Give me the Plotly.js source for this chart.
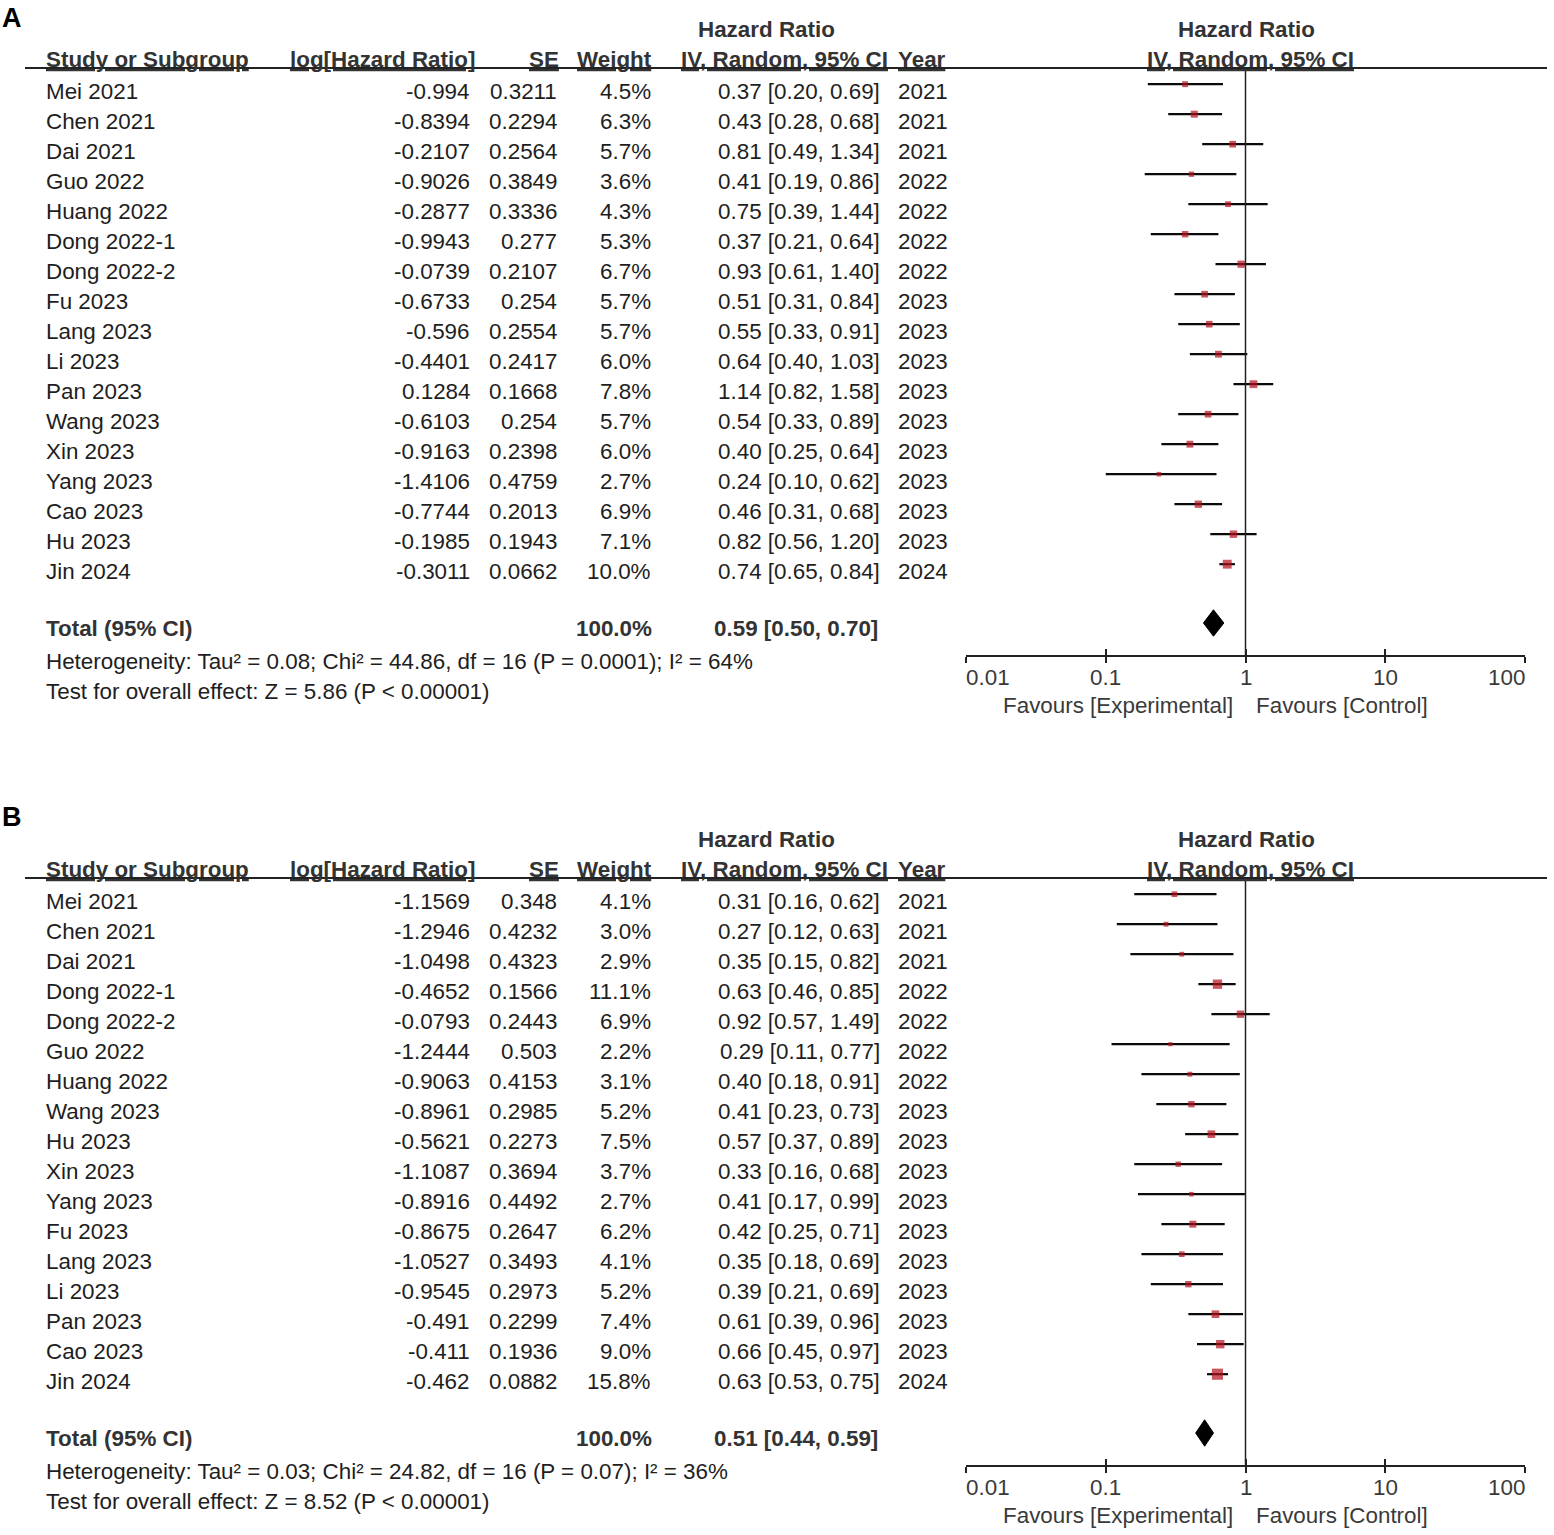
<!DOCTYPE html>
<html><head><meta charset="utf-8">
<script src="https://cdn.plot.ly/plotly-3.0.1.min.js"></script>
<style>html,body{margin:0;padding:0;background:#fff}#chart{width:1554px;height:1535px}</style>
</head><body><div id="chart"></div>
<script>
// ---------- Panel A data ----------
const studiesA = ["Mei 2021","Chen 2021","Dai 2021","Guo 2022","Huang 2022","Dong 2022-1","Dong 2022-2","Fu 2023","Lang 2023","Li 2023","Pan 2023","Wang 2023","Xin 2023","Yang 2023","Cao 2023","Hu 2023","Jin 2024"];
const logHRA = [-0.994,-0.8394,-0.2107,-0.9026,-0.2877,-0.9943,-0.0739,-0.6733,-0.596,-0.4401,0.1284,-0.6103,-0.9163,-1.4106,-0.7744,-0.1985,-0.3011];
const seA = [0.3211,0.2294,0.2564,0.3849,0.3336,0.277,0.2107,0.254,0.2554,0.2417,0.1668,0.254,0.2398,0.4759,0.2013,0.1943,0.0662];
const weightA = [4.5,6.3,5.7,3.6,4.3,5.3,6.7,5.7,5.7,6.0,7.8,5.7,6.0,2.7,6.9,7.1,10.0];
const hrA = [0.37,0.43,0.81,0.41,0.75,0.37,0.93,0.51,0.55,0.64,1.14,0.54,0.40,0.24,0.46,0.82,0.74];
const loA = [0.20,0.28,0.49,0.19,0.39,0.21,0.61,0.31,0.33,0.40,0.82,0.33,0.25,0.10,0.31,0.56,0.65];
const hiA = [0.69,0.68,1.34,0.86,1.44,0.64,1.40,0.84,0.91,1.03,1.58,0.89,0.64,0.62,0.68,1.20,0.84];
const yearA = [2021,2021,2021,2022,2022,2022,2022,2023,2023,2023,2023,2023,2023,2023,2023,2023,2024];
const totalA = [0.59,0.50,0.70];
const hetA = "Heterogeneity: Tau² = 0.08; Chi² = 44.86, df = 16 (P = 0.0001); I² = 64%";
const testA = "Test for overall effect: Z = 5.86 (P &lt; 0.00001)";

// ---------- Panel B data ----------
const studiesB = ["Mei 2021","Chen 2021","Dai 2021","Dong 2022-1","Dong 2022-2","Guo 2022","Huang 2022","Wang 2023","Hu 2023","Xin 2023","Yang 2023","Fu 2023","Lang 2023","Li 2023","Pan 2023","Cao 2023","Jin 2024"];
const logHRB = [-1.1569,-1.2946,-1.0498,-0.4652,-0.0793,-1.2444,-0.9063,-0.8961,-0.5621,-1.1087,-0.8916,-0.8675,-1.0527,-0.9545,-0.491,-0.411,-0.462];
const seB = [0.348,0.4232,0.4323,0.1566,0.2443,0.503,0.4153,0.2985,0.2273,0.3694,0.4492,0.2647,0.3493,0.2973,0.2299,0.1936,0.0882];
const weightB = [4.1,3.0,2.9,11.1,6.9,2.2,3.1,5.2,7.5,3.7,2.7,6.2,4.1,5.2,7.4,9.0,15.8];
const hrB = [0.31,0.27,0.35,0.63,0.92,0.29,0.40,0.41,0.57,0.33,0.41,0.42,0.35,0.39,0.61,0.66,0.63];
const loB = [0.16,0.12,0.15,0.46,0.57,0.11,0.18,0.23,0.37,0.16,0.17,0.25,0.18,0.21,0.39,0.45,0.53];
const hiB = [0.62,0.63,0.82,0.85,1.49,0.77,0.91,0.73,0.89,0.68,0.99,0.71,0.69,0.69,0.96,0.97,0.75];
const yearB = [2021,2021,2021,2022,2022,2022,2022,2023,2023,2023,2023,2023,2023,2023,2023,2023,2024];
const totalB = [0.51,0.44,0.59];
const hetB = "Heterogeneity: Tau² = 0.03; Chi² = 24.82, df = 16 (P = 0.07); I² = 36%";
const testB = "Test for overall effect: Z = 8.52 (P &lt; 0.00001)";

const tickVals = [0.01,0.1,1,10,100];
const tickText = ["0.01","0.1","1","10","100"];

// ---------- layout helpers ----------
const W = 1554, H = 1535;
const FONT = "Liberation Sans, Arial, Helvetica, sans-serif";
const TXT = "#1e1e1e", HDR = "#333333", GRY = "#3a3a3a";
const FS = 22.4;
const px = v => v / W;
const markShift = -0.26;   // CI lines sit slightly above text rows
const totalRow = 17.9, hetRow = 19.0, testRow = 20.0;
const yRange = [18.767, -0.8];
const domA = [1 - 655 / H, 1 - 68 / H];
const domB = [1 - 1465 / H, 1 - 878 / H];

const traces = [];
const annotations = [];
const shapes = [];

function rowToPaper(dom, r) {
  return dom[1] - (r - yRange[1]) / (yRange[0] - yRange[1]) * (dom[1] - dom[0]);
}

function panel(P, xa, ya, dom) {
  const rows = P.studies.map((_, i) => i);
  function ann(text, x, r, anchor, opts) {
    const pad = anchor === "left" ? -2 : (anchor === "right" ? 2 : 0);
    annotations.push(Object.assign({
      text: text, x: px(x + pad), xref: "paper", y: rowToPaper(dom, r), yref: "paper",
      xanchor: anchor, yanchor: "middle", showarrow: false,
      font: {family: FONT, size: FS, color: TXT}
    }, opts || {}));
  }
  // table body
  P.studies.forEach((s, i) => {
    ann(s, 46, i, "left");
    ann(String(P.logHR[i]), 470, i, "right");
    ann(String(P.se[i]), 557, i, "right");
    ann(P.weight[i].toFixed(1) + "%", 651, i, "right");
    ann(P.hr[i].toFixed(2) + " [" + P.lo[i].toFixed(2) + ", " + P.hi[i].toFixed(2) + "]", 880, i, "right");
    ann(String(P.year[i]), 898, i, "left");
  });
  // headers
  const hf = {family: FONT, size: FS, color: HDR};
  ann("<b>Hazard Ratio</b>", 766, -2.1, "center", {font: hf});
  ann("<b>Hazard Ratio</b>", 1246, -2.1, "center", {font: hf});
  ann("<b><u>Study or Subgroup</u></b>", 46, -1.1, "left", {font: hf});
  ann("<b><u>log[Hazard Ratio]</u></b>", 475, -1.1, "right", {font: hf});
  ann("<b><u>SE</u></b>", 559, -1.1, "right", {font: hf});
  ann("<b><u>Weight</u></b>", 652, -1.1, "right", {font: hf});
  ann("<b><u>IV, Random, 95% CI</u></b>", 888, -1.1, "right", {font: hf});
  ann("<b><u>Year</u></b>", 898, -1.1, "left", {font: hf});
  ann("<b><u>IV, Random, 95% CI</u></b>", 1250, -1.1, "center", {font: hf});
  // total + footer
  ann("<b>Total (95% CI)</b>", 46, totalRow, "left", {font: hf});
  ann("<b>100.0%</b>", 652, totalRow, "right", {font: hf});
  ann("<b>" + P.total[0].toFixed(2) + " [" + P.total[1].toFixed(2) + ", " + P.total[2].toFixed(2) + "]</b>", 878, totalRow, "right", {font: hf});
  ann(P.het, 46, hetRow, "left");
  ann(P.test, 46, testRow, "left");
  // tick labels (end labels aligned inward as in the original)
  const ff = {family: FONT, size: FS, color: GRY};
  tickVals.forEach((v, i) => {
    annotations.push({text: tickText[i], xref: xa, x: Math.log10(v), yref: "paper", y: dom[0], yshift: -22,
      xanchor: i === 0 ? "left" : (i === tickVals.length - 1 ? "right" : "center"),
      xshift: i === 0 ? -2 : (i === tickVals.length - 1 ? 2 : 0), yanchor: "middle",
      showarrow: false, font: ff});
  });
  // favours labels
  annotations.push({text: "Favours [Experimental]", xref: xa, x: 0, xshift: -11, yref: "paper", y: dom[0], yshift: -50,
    xanchor: "right", yanchor: "middle", showarrow: false, font: ff});
  annotations.push({text: "Favours [Control]", xref: xa, x: 0, xshift: 8, yref: "paper", y: dom[0], yshift: -50,
    xanchor: "left", yanchor: "middle", showarrow: false, font: ff});

  // study estimates with CIs
  traces.push({
    type: "scatter", mode: "markers", xaxis: xa, yaxis: ya,
    x: P.hr, y: rows.map(r => r + markShift),
    marker: {symbol: "square", color: "#b3101b", size: P.weight.map(w => 2.8 * Math.sqrt(w)), line: {width: 0}},
    error_x: {type: "data", symmetric: false,
      array: P.hi.map((h, i) => h - P.hr[i]),
      arrayminus: P.lo.map((l, i) => P.hr[i] - l),
      color: "#0a0a0a", thickness: 2.2, width: 0},
    hoverinfo: "skip", showlegend: false, cliponaxis: false
  });
  // pooled diamond
  const r = totalRow + markShift + 0.06, h = 0.44;
  traces.push({
    type: "scatter", mode: "lines", xaxis: xa, yaxis: ya,
    x: [P.total[1], P.total[0], P.total[2], P.total[0], P.total[1]],
    y: [r, r - h, r, r + h, r],
    fill: "toself", fillcolor: "#000", line: {color: "#000", width: 1},
    hoverinfo: "skip", showlegend: false, cliponaxis: false
  });
  // rule and no-effect line
  shapes.push({type: "line", xref: "paper", x0: px(25), x1: px(1547), yref: "paper", y0: dom[1], y1: dom[1],
    line: {color: "#222", width: 2}});
  shapes.push({type: "line", xref: xa, x0: 1, x1: 1, yref: "paper", y0: dom[0], y1: dom[1],
    line: {color: "#222", width: 1.5}});
}

panel({studies: studiesA, logHR: logHRA, se: seA, weight: weightA, hr: hrA, lo: loA, hi: hiA, year: yearA,
  total: totalA, het: hetA, test: testA}, "x", "y", domA);
panel({studies: studiesB, logHR: logHRB, se: seB, weight: weightB, hr: hrB, lo: loB, hi: hiB, year: yearB,
  total: totalB, het: hetB, test: testB}, "x2", "y2", domB);

// dummy traces to register overlay tick axes
traces.push({type: "scatter", mode: "markers", x: [], y: [], xaxis: "x3", yaxis: "y", showlegend: false, hoverinfo: "skip"});
traces.push({type: "scatter", mode: "markers", x: [], y: [], xaxis: "x4", yaxis: "y2", showlegend: false, hoverinfo: "skip"});

annotations.push({text: "<b>A</b>", xref: "paper", x: 0, xanchor: "left", yref: "paper", y: 1 - 18 / H, yanchor: "middle",
  showarrow: false, font: {family: FONT, size: 27, color: "#000"}});
annotations.push({text: "<b>B</b>", xref: "paper", x: 0, xanchor: "left", yref: "paper", y: 1 - 817 / H, yanchor: "middle",
  showarrow: false, font: {family: FONT, size: 27, color: "#000"}});

const xDomain = [966 / W, 1525 / W];
function xAxis(anchor, overlay) {
  return {
    type: "log", range: [-2, 2], domain: xDomain, anchor: anchor, fixedrange: true,
    showgrid: false, zeroline: false, showline: !overlay, linecolor: "#222", linewidth: 2,
    tickmode: "array", tickvals: tickVals, ticktext: tickText,
    ticks: overlay ? "inside" : "outside", ticklen: 6, tickwidth: 2, tickcolor: "#222",
    showticklabels: false
  };
}
function yAxis(domain) {
  return {domain: domain, range: yRange, visible: false, fixedrange: true, showgrid: false, zeroline: false};
}

const layout = {
  width: W, height: H, margin: {l: 0, r: 0, t: 0, b: 0},
  paper_bgcolor: "#fff", plot_bgcolor: "rgba(0,0,0,0)",
  showlegend: false,
  xaxis: xAxis("y", false),
  xaxis2: xAxis("y2", false),
  xaxis3: Object.assign(xAxis("y", true), {overlaying: "x"}),
  xaxis4: Object.assign(xAxis("y2", true), {overlaying: "x2"}),
  yaxis: yAxis(domA),
  yaxis2: yAxis(domB),
  annotations: annotations,
  shapes: shapes
};

Plotly.newPlot("chart", traces, layout, {staticPlot: true, displayModeBar: false});
</script>
</body></html>
